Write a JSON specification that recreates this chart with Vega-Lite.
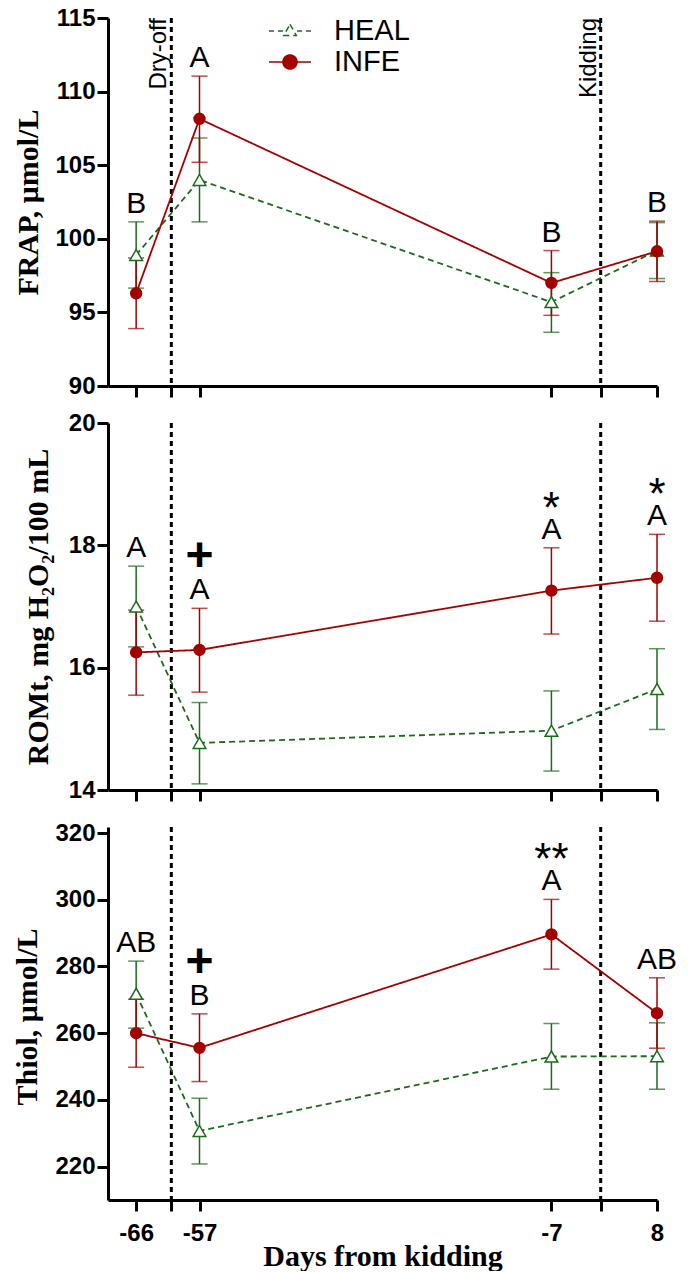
{
  "$schema": "https://vega.github.io/schema/vega-lite/v6.json",
  "padding": {"left": 12, "top": 6, "right": 5, "bottom": 0},
  "background": "white",
  "config": {
    "view": {"stroke": null},
    "axis": {
      "domainColor": "black", "domainWidth": 3, "tickColor": "black", "tickWidth": 3, "tickSize": 11,
      "labelFont": "Liberation Sans", "labelFontSize": 24, "labelFontWeight": "bold", "labelColor": "black",
      "titleFont": "Liberation Serif", "titleFontSize": 30, "titleFontWeight": "bold", "titleColor": "black",
      "grid": false, "labelFlush": false, "labelOverlap": false
    },
    "axisX": {"labelPadding": 10},
    "axisY": {"labelPadding": 2}
  },
  "datasets": {
    "events": [
      {"day": -61, "event": "Dry-off"},
      {"day": 0, "event": "Kidding"}
    ],
    "frap": [
      {"day": -66, "group": "HEAL", "mean": 98.9, "lo": 96.65, "hi": 101.15, "letter": "B", "sig": ""},
      {"day": -66, "group": "INFE", "mean": 96.3, "lo": 93.9, "hi": 98.7, "letter": "B", "sig": ""},
      {"day": -57, "group": "HEAL", "mean": 104.0, "lo": 101.15, "hi": 106.85, "letter": "A", "sig": ""},
      {"day": -57, "group": "INFE", "mean": 108.15, "lo": 105.2, "hi": 111.05, "letter": "A", "sig": ""},
      {"day": -7, "group": "HEAL", "mean": 95.7, "lo": 93.65, "hi": 97.7, "letter": "B", "sig": ""},
      {"day": -7, "group": "INFE", "mean": 97.0, "lo": 94.8, "hi": 99.2, "letter": "B", "sig": ""},
      {"day": 8, "group": "HEAL", "mean": 99.2, "lo": 97.3, "hi": 101.1, "letter": "B", "sig": ""},
      {"day": 8, "group": "INFE", "mean": 99.15, "lo": 97.1, "hi": 101.2, "letter": "B", "sig": ""}
    ],
    "romt": [
      {"day": -66, "group": "HEAL", "mean": 17.0, "lo": 16.34, "hi": 17.66, "letter": "A", "sig": ""},
      {"day": -66, "group": "INFE", "mean": 16.25, "lo": 15.55, "hi": 16.94, "letter": "A", "sig": ""},
      {"day": -57, "group": "HEAL", "mean": 14.77, "lo": 14.1, "hi": 15.43, "letter": "A", "sig": "+"},
      {"day": -57, "group": "INFE", "mean": 16.29, "lo": 15.6, "hi": 16.97, "letter": "A", "sig": "+"},
      {"day": -7, "group": "HEAL", "mean": 14.97, "lo": 14.31, "hi": 15.62, "letter": "A", "sig": "*"},
      {"day": -7, "group": "INFE", "mean": 17.26, "lo": 16.55, "hi": 17.96, "letter": "A", "sig": "*"},
      {"day": 8, "group": "HEAL", "mean": 15.65, "lo": 14.99, "hi": 16.31, "letter": "A", "sig": "*"},
      {"day": 8, "group": "INFE", "mean": 17.47, "lo": 16.76, "hi": 18.18, "letter": "A", "sig": "*"}
    ],
    "thiol": [
      {"day": -66, "group": "HEAL", "mean": 271.8, "lo": 261.5, "hi": 281.6, "letter": "AB", "sig": ""},
      {"day": -66, "group": "INFE", "mean": 260.0, "lo": 249.8, "hi": 270.2, "letter": "AB", "sig": ""},
      {"day": -57, "group": "HEAL", "mean": 230.7, "lo": 220.8, "hi": 240.5, "letter": "B", "sig": "+"},
      {"day": -57, "group": "INFE", "mean": 255.6, "lo": 245.5, "hi": 265.8, "letter": "B", "sig": "+"},
      {"day": -7, "group": "HEAL", "mean": 253.0, "lo": 243.2, "hi": 262.9, "letter": "A", "sig": "**"},
      {"day": -7, "group": "INFE", "mean": 289.6, "lo": 279.2, "hi": 300.1, "letter": "A", "sig": "**"},
      {"day": 8, "group": "HEAL", "mean": 253.1, "lo": 243.2, "hi": 263.1, "letter": "AB", "sig": ""},
      {"day": 8, "group": "INFE", "mean": 266.0, "lo": 255.5, "hi": 276.6, "letter": "AB", "sig": ""}
    ]
  },
  "spacing": 37,
  "bounds": "flush",
  "vconcat": [
    {
      "width": 549, "height": 368,
      "data": {"name": "frap"},
      "layer": [
        {"data": {"name": "events"}, "mark": {"type": "rule", "strokeDash": [5, 4], "strokeWidth": 3, "color": "black"},
         "encoding": {"x": {"field": "day", "type": "quantitative", "title": null, "scale": {"domain": [-70, 8], "nice": false, "zero": false},
                            "axis": {"values": [-66, -61, -57, -7, 0, 8], "labels": false, "title": null}}}},
        {"data": {"name": "events"}, "mark": {"type": "text", "angle": 270, "align": "right", "baseline": "bottom", "font": "Liberation Sans", "fontSize": 24, "color": "black"},
         "encoding": {"x": {"field": "day", "type": "quantitative", "title": null}, "y": {"datum": 115, "type": "quantitative", "title": "FRAP, μmol/L"}, "text": {"field": "event"}}},
        {"transform": [{"filter": "datum.group === 'HEAL'"}],
         "mark": {"type": "errorbar", "color": "#1B6B1B", "thickness": 1.5, "ticks": {"size": 16}},
         "encoding": {"x": {"field": "day", "type": "quantitative", "title": null},
                      "y": {"field": "lo", "type": "quantitative", "title": "FRAP, μmol/L", "scale": {"domain": [90, 115], "nice": false, "zero": false},
                            "axis": {"values": [90, 95, 100, 105, 110, 115], "title": "FRAP, μmol/L", "titleX": -80, "titleY": 184, "titleAngle": 270, "titleAlign": "center", "titleBaseline": "middle"}},
                      "y2": {"field": "hi", "title": "FRAP, μmol/L"}}},
        {"transform": [{"filter": "datum.group === 'INFE'"}],
         "mark": {"type": "errorbar", "color": "#A30000", "thickness": 1.5, "ticks": {"size": 16}},
         "encoding": {"x": {"field": "day", "type": "quantitative", "title": null}, "y": {"field": "lo", "type": "quantitative", "title": "FRAP, μmol/L"}, "y2": {"field": "hi", "title": "FRAP, μmol/L"}}},
        {"mark": {"type": "line", "strokeWidth": 1.8},
         "encoding": {"x": {"field": "day", "type": "quantitative", "title": null}, "y": {"field": "mean", "type": "quantitative", "title": "FRAP, μmol/L"},
                      "color": {"field": "group", "type": "nominal", "scale": {"domain": ["HEAL", "INFE"], "range": ["#1B6B1B", "#A30000"]},
                                "legend": {"orient": "none", "legendX": 166, "legendY": -3, "title": null, "padding": 0, "symbolSize": 900,
                                           "labelFont": "Liberation Sans", "labelFontSize": 29, "labelColor": "black", "labelOffset": 28, "rowPadding": 0,
                                           "encode": {"symbols": {"update": {
                                             "shape": {"signal": "datum.value === 'HEAL' ? 'M-1.4,0H-1.07M-0.8,0H-0.47M0.47,0H0.8M1.07,0H1.4M0,-0.45L0.42,0.3L-0.42,0.3Z' : 'M-1.4,0H1.4M0.47,0A0.47,0.47,0,1,1,-0.47,0A0.47,0.47,0,1,1,0.47,0Z'"},
                                             "fill": {"signal": "datum.value === 'HEAL' ? 'white' : '#A30000'"},
                                             "stroke": {"signal": "datum.value === 'HEAL' ? '#1B6B1B' : '#A30000'"},
                                             "strokeDash": {"value": []},
                                             "size": {"value": 900},
                                             "strokeWidth": {"value": 1.5},
                                             "opacity": {"value": 1}}}}}},
                      "strokeDash": {"field": "group", "type": "nominal", "scale": {"domain": ["HEAL", "INFE"], "range": [[6, 4], [1, 0]]}, "legend": null}}},
        {"transform": [{"filter": "datum.group === 'HEAL'"}],
         "mark": {"type": "point", "shape": "triangle-up", "filled": true, "fill": "white", "stroke": "#1B6B1B", "strokeWidth": 1.5, "size": 160, "opacity": 1},
         "encoding": {"x": {"field": "day", "type": "quantitative", "title": null}, "y": {"field": "mean", "type": "quantitative", "title": "FRAP, μmol/L"}}},
        {"transform": [{"filter": "datum.group === 'INFE'"}],
         "mark": {"type": "point", "shape": "circle", "filled": true, "color": "#A30000", "size": 154, "opacity": 1},
         "encoding": {"x": {"field": "day", "type": "quantitative", "title": null}, "y": {"field": "mean", "type": "quantitative", "title": "FRAP, μmol/L"}}},
        {"mark": {"type": "text", "font": "Liberation Sans", "fontSize": 30, "baseline": "alphabetic", "dy": -9, "color": "black"},
         "encoding": {"x": {"field": "day", "type": "quantitative", "title": null}, "y": {"aggregate": "max", "field": "hi", "type": "quantitative", "title": "FRAP, μmol/L"}, "text": {"field": "letter"}}}
      ]
    },
    {
      "width": 549, "height": 367,
      "data": {"name": "romt"},
      "layer": [
        {"data": {"name": "events"}, "mark": {"type": "rule", "strokeDash": [5, 4], "strokeWidth": 3, "color": "black"},
         "encoding": {"x": {"field": "day", "type": "quantitative", "title": null, "scale": {"domain": [-70, 8], "nice": false, "zero": false},
                            "axis": {"values": [-66, -61, -57, -7, 0, 8], "labels": false, "title": null}}}},
        {"transform": [{"filter": "datum.group === 'HEAL'"}],
         "mark": {"type": "errorbar", "color": "#1B6B1B", "thickness": 1.5, "ticks": {"size": 16}},
         "encoding": {"x": {"field": "day", "type": "quantitative", "title": null},
                      "y": {"field": "lo", "type": "quantitative", "title": "ROMt, mg H₂O₂/100 mL", "scale": {"domain": [14, 20], "nice": false, "zero": false},
                            "axis": {"values": [14, 16, 18, 20], "format": "d", "title": "ROMt, mg H₂O₂/100 mL", "titleX": -70, "titleY": 183.5, "titleAngle": 270, "titleAlign": "center", "titleBaseline": "middle"}},
                      "y2": {"field": "hi", "title": "ROMt, mg H₂O₂/100 mL"}}},
        {"transform": [{"filter": "datum.group === 'INFE'"}],
         "mark": {"type": "errorbar", "color": "#A30000", "thickness": 1.5, "ticks": {"size": 16}},
         "encoding": {"x": {"field": "day", "type": "quantitative", "title": null}, "y": {"field": "lo", "type": "quantitative", "title": "ROMt, mg H₂O₂/100 mL"}, "y2": {"field": "hi", "title": "ROMt, mg H₂O₂/100 mL"}}},
        {"mark": {"type": "line", "strokeWidth": 1.8},
         "encoding": {"x": {"field": "day", "type": "quantitative", "title": null}, "y": {"field": "mean", "type": "quantitative", "title": "ROMt, mg H₂O₂/100 mL"},
                      "color": {"field": "group", "type": "nominal", "scale": {"domain": ["HEAL", "INFE"], "range": ["#1B6B1B", "#A30000"]}, "legend": null},
                      "strokeDash": {"field": "group", "type": "nominal", "scale": {"domain": ["HEAL", "INFE"], "range": [[6, 4], [1, 0]]}, "legend": null}}},
        {"transform": [{"filter": "datum.group === 'HEAL'"}],
         "mark": {"type": "point", "shape": "triangle-up", "filled": true, "fill": "white", "stroke": "#1B6B1B", "strokeWidth": 1.5, "size": 160, "opacity": 1},
         "encoding": {"x": {"field": "day", "type": "quantitative", "title": null}, "y": {"field": "mean", "type": "quantitative", "title": "ROMt, mg H₂O₂/100 mL"}}},
        {"transform": [{"filter": "datum.group === 'INFE'"}],
         "mark": {"type": "point", "shape": "circle", "filled": true, "color": "#A30000", "size": 154, "opacity": 1},
         "encoding": {"x": {"field": "day", "type": "quantitative", "title": null}, "y": {"field": "mean", "type": "quantitative", "title": "ROMt, mg H₂O₂/100 mL"}}},
        {"mark": {"type": "text", "font": "Liberation Sans", "fontSize": 30, "baseline": "alphabetic", "dy": -9, "color": "black"},
         "encoding": {"x": {"field": "day", "type": "quantitative", "title": null}, "y": {"aggregate": "max", "field": "hi", "type": "quantitative", "title": "ROMt, mg H₂O₂/100 mL"}, "text": {"field": "letter"}}},
        {"transform": [{"filter": "datum.sig === '+'"}],
         "mark": {"type": "text", "font": "Liberation Sans", "fontWeight": "bold", "fontSize": 48, "baseline": "alphabetic", "dy": -37, "color": "black"},
         "encoding": {"x": {"field": "day", "type": "quantitative", "title": null}, "y": {"aggregate": "max", "field": "hi", "type": "quantitative", "title": "ROMt, mg H₂O₂/100 mL"}, "text": {"field": "sig"}}},
        {"transform": [{"filter": "datum.sig === '*' || datum.sig === '**'"}],
         "mark": {"type": "text", "font": "Liberation Sans", "fontSize": 44, "baseline": "alphabetic", "dy": -25, "color": "black"},
         "encoding": {"x": {"field": "day", "type": "quantitative", "title": null}, "y": {"aggregate": "max", "field": "hi", "type": "quantitative", "title": "ROMt, mg H₂O₂/100 mL"}, "text": {"field": "sig"}}}
      ]
    },
    {
      "width": 549, "height": 373,
      "data": {"name": "thiol"},
      "layer": [
        {"data": {"name": "events"}, "mark": {"type": "rule", "strokeDash": [5, 4], "strokeWidth": 3, "color": "black"},
         "encoding": {"x": {"field": "day", "type": "quantitative", "title": "Days from kidding", "scale": {"domain": [-70, 8], "nice": false, "zero": false},
                            "axis": {"values": [-66, -61, -57, -7, 0, 8], "labelExpr": "datum.value == -61 || datum.value == 0 ? '' : toString(datum.value)",
                                     "title": "Days from kidding", "titleX": 274.5, "titleY": 65, "titleBaseline": "alphabetic", "titleAlign": "center"}}}},
        {"transform": [{"filter": "datum.group === 'HEAL'"}],
         "mark": {"type": "errorbar", "color": "#1B6B1B", "thickness": 1.5, "ticks": {"size": 16}},
         "encoding": {"x": {"field": "day", "type": "quantitative", "title": "Days from kidding"},
                      "y": {"field": "lo", "type": "quantitative", "title": "Thiol, μmol/L", "scale": {"domain": [210, 321.8], "nice": false, "zero": false},
                            "axis": {"values": [220, 240, 260, 280, 300, 320], "title": "Thiol, μmol/L", "titleX": -81, "titleY": 189.5, "titleAngle": 270, "titleAlign": "center", "titleBaseline": "middle"}},
                      "y2": {"field": "hi", "title": "Thiol, μmol/L"}}},
        {"transform": [{"filter": "datum.group === 'INFE'"}],
         "mark": {"type": "errorbar", "color": "#A30000", "thickness": 1.5, "ticks": {"size": 16}},
         "encoding": {"x": {"field": "day", "type": "quantitative", "title": "Days from kidding"}, "y": {"field": "lo", "type": "quantitative", "title": "Thiol, μmol/L"}, "y2": {"field": "hi", "title": "Thiol, μmol/L"}}},
        {"mark": {"type": "line", "strokeWidth": 1.8},
         "encoding": {"x": {"field": "day", "type": "quantitative", "title": "Days from kidding"}, "y": {"field": "mean", "type": "quantitative", "title": "Thiol, μmol/L"},
                      "color": {"field": "group", "type": "nominal", "scale": {"domain": ["HEAL", "INFE"], "range": ["#1B6B1B", "#A30000"]}, "legend": null},
                      "strokeDash": {"field": "group", "type": "nominal", "scale": {"domain": ["HEAL", "INFE"], "range": [[6, 4], [1, 0]]}, "legend": null}}},
        {"transform": [{"filter": "datum.group === 'HEAL'"}],
         "mark": {"type": "point", "shape": "triangle-up", "filled": true, "fill": "white", "stroke": "#1B6B1B", "strokeWidth": 1.5, "size": 160, "opacity": 1},
         "encoding": {"x": {"field": "day", "type": "quantitative", "title": "Days from kidding"}, "y": {"field": "mean", "type": "quantitative", "title": "Thiol, μmol/L"}}},
        {"transform": [{"filter": "datum.group === 'INFE'"}],
         "mark": {"type": "point", "shape": "circle", "filled": true, "color": "#A30000", "size": 154, "opacity": 1},
         "encoding": {"x": {"field": "day", "type": "quantitative", "title": "Days from kidding"}, "y": {"field": "mean", "type": "quantitative", "title": "Thiol, μmol/L"}}},
        {"mark": {"type": "text", "font": "Liberation Sans", "fontSize": 30, "baseline": "alphabetic", "dy": -9, "color": "black"},
         "encoding": {"x": {"field": "day", "type": "quantitative", "title": "Days from kidding"}, "y": {"aggregate": "max", "field": "hi", "type": "quantitative", "title": "Thiol, μmol/L"}, "text": {"field": "letter"}}},
        {"transform": [{"filter": "datum.sig === '+'"}],
         "mark": {"type": "text", "font": "Liberation Sans", "fontWeight": "bold", "fontSize": 48, "baseline": "alphabetic", "dy": -37, "color": "black"},
         "encoding": {"x": {"field": "day", "type": "quantitative", "title": "Days from kidding"}, "y": {"aggregate": "max", "field": "hi", "type": "quantitative", "title": "Thiol, μmol/L"}, "text": {"field": "sig"}}},
        {"transform": [{"filter": "datum.sig === '*' || datum.sig === '**'"}],
         "mark": {"type": "text", "font": "Liberation Sans", "fontSize": 44, "baseline": "alphabetic", "dy": -25, "color": "black"},
         "encoding": {"x": {"field": "day", "type": "quantitative", "title": "Days from kidding"}, "y": {"aggregate": "max", "field": "hi", "type": "quantitative", "title": "Thiol, μmol/L"}, "text": {"field": "sig"}}}
      ]
    }
  ]
}
